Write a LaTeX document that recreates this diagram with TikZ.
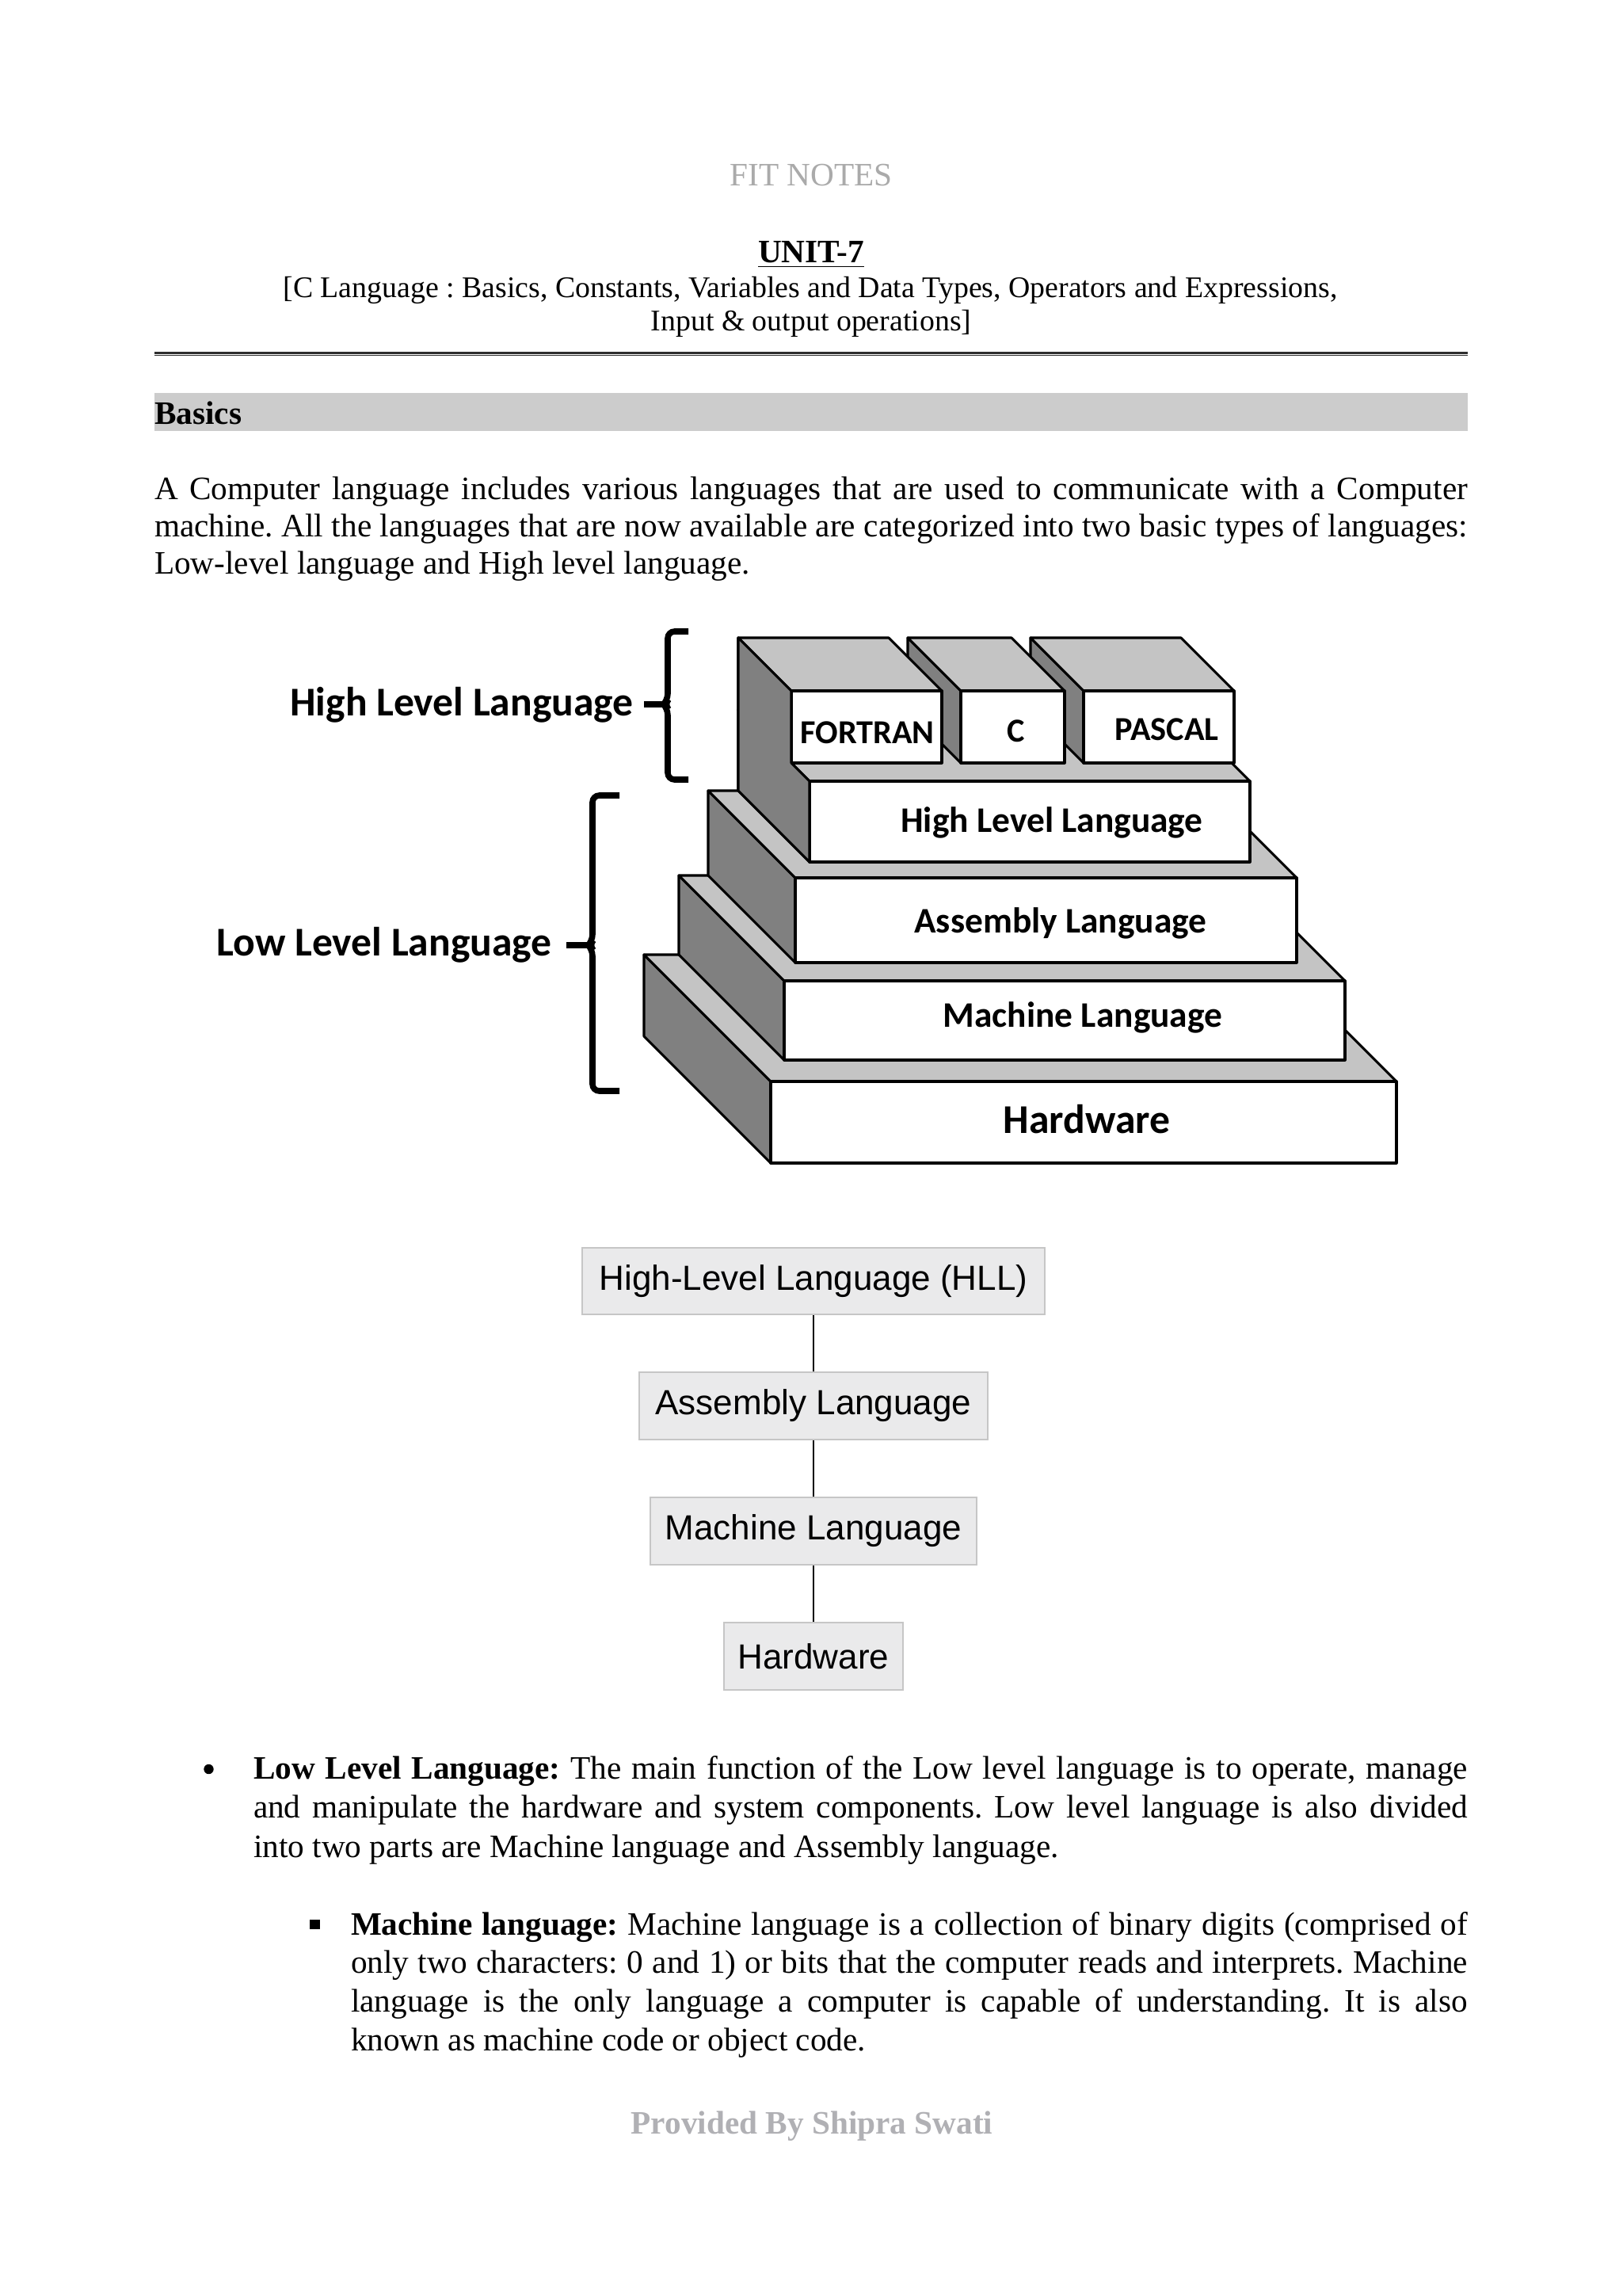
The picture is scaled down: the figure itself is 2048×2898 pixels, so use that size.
\documentclass[tikz,border=0pt]{standalone}
\usepackage{fontspec}
\setmainfont{Liberation Serif}
\newfontfamily\calib{Carlito}
\newfontfamily\arialf{Liberation Sans}
\frenchspacing
\definecolor{fitgray}{RGB}{170,170,170}
\definecolor{footgray}{RGB}{176,176,180}
\definecolor{bandgray}{RGB}{204,204,204}
\definecolor{topgray}{RGB}{196,196,196}
\definecolor{sidegray}{RGB}{128,128,128}
\definecolor{boxfill}{RGB}{234,234,235}
\definecolor{boxline}{RGB}{198,198,198}
\definecolor{rulec}{RGB}{45,45,45}
\newcommand\pyrslab[5]{%
  \filldraw[sideface] (#1,#2) -- (#1-#5,#2-#5) -- (#1-#5,#4-#5) -- (#1,#4) -- cycle;
  \filldraw[topface] (#1,#2) -- (#1-#5,#2-#5) -- (#3-#5,#2-#5) -- (#3,#2) -- cycle;
  \filldraw[frontface] (#1,#2) rectangle (#3,#4);
}
\begin{document}
\begin{tikzpicture}[x=0.290664pt,y=-0.290664pt,
  txt/.style={inner sep=0pt,outer sep=0pt},
  body/.style={txt,font=\fontsize{12}{14}\selectfont},
  sideface/.style={fill=sidegray,draw=black,line width=0.9pt,line join=round},
  topface/.style={fill=topgray,draw=black,line width=0.9pt,line join=round},
  frontface/.style={fill=white,draw=black,line width=0.9pt,line join=round},
  pyrtext/.style={txt,anchor=base,font=\calib\bfseries\fontsize{13.2}{16}\selectfont},
  boxlabel/.style={txt,anchor=base,font=\calib\bfseries\fontsize{12.3}{15}\selectfont},
  sidelabel/.style={txt,anchor=base,font=\calib\bfseries\fontsize{15}{18}\selectfont},
  bracestyle/.style={line width=2.2pt,rounded corners=2.5pt},
  flowbox/.style={draw=boxline,fill=boxfill,line width=0.6pt,inner sep=0pt,
    font=\arialf\fontsize{12.8}{15}\selectfont},
  conn/.style={draw=black,line width=0.7pt}]
\useasboundingbox (0,0) rectangle (2048,2898);
\fill[white] (0,0) rectangle (2048,2898);

% ---------- header ----------
\node[body,anchor=base,text=fitgray] (fit) at (1024,234) {FIT NOTES};
\node[body,anchor=base,font=\bfseries\fontsize{12}{14}\selectfont] (unit) at (1024,331) {\underline{UNIT-7}};
\node[body,anchor=base,font=\fontsize{11}{13}\selectfont] (sub1) at (1023,375) {[C Language : Basics, Constants, Variables and Data Types, Operators and Expressions,};
\node[body,anchor=base,font=\fontsize{11}{13}\selectfont] (sub2) at (1024,417) {Input \& output operations]};
\draw[rulec,line width=0.67pt] (195,445.5) -- (1853,445.5);
\draw[rulec,line width=0.38pt] (195,448.8) -- (1853,448.8);

% ---------- Basics band ----------
\fill[bandgray] (195,496) rectangle (1853,544);
\node[body,anchor=base west,font=\bfseries\fontsize{12}{14}\selectfont] (basics) at (195,535) {Basics};

\node[body,anchor=base west] (para) at (195,630) {\parbox[t]{481.9pt}{\fontsize{12}{13.66}\selectfont
A Computer language includes various languages that are used to communicate with a Computer\linebreak
machine. All the languages that are now available are categorized into two basic types of languages:\linebreak
Low-level language and High level language.}};

% ---------- pyramid ----------
\pyrslab{973}{1365}{1763}{1468}{160}
\pyrslab{990}{1238}{1698}{1338}{133}
\pyrslab{1004}{1108}{1637}{1215}{110}
\pyrslab{1022}{986}{1578}{1088}{90}
\pyrslab{1368}{872}{1558}{963}{67}
\pyrslab{1213}{872}{1344}{963}{67}
\pyrslab{999}{872}{1189}{963}{67}
\filldraw[sideface] (932,805) -- (999,872) -- (999,963) -- (1022,986) -- (1022,1088) -- (932,998) -- cycle;

\node[boxlabel] (fortran) at (1095,938) {FORTRAN};
\node[boxlabel] (clang) at (1283,936) {C};
\node[boxlabel] (pascal) at (1473,934) {PASCAL};
\node[pyrtext] (hlltxt) at (1328,1050) {High Level Language};
\node[pyrtext] (asmtxt) at (1339,1177) {Assembly Language};
\node[pyrtext] (mactxt) at (1367,1296) {Machine Language};
\node[pyrtext,font=\calib\bfseries\fontsize{15}{18}\selectfont] (hwtxt) at (1372,1430) {Hardware};

% braces and side labels
\node[sidelabel] (hlllab) at (583,903) {High Level Language};
\node[sidelabel] (lllab) at (485,1206) {Low Level Language};
\draw[bracestyle] (869,797) -- (843,797) -- (843,884) -- (838,889) -- (843,894) -- (843,984) -- (869,984);
\draw[line width=2.2pt] (813,889) -- (840,889);
\draw[bracestyle] (782,1004) -- (748,1004) -- (748,1188) -- (743,1193) -- (748,1198) -- (748,1377) -- (782,1377);
\draw[line width=2.2pt] (715,1193) -- (745,1193);

% ---------- flow chart ----------
\node[flowbox,minimum width=169.75pt,minimum height=24.4pt] (f1) at (1027,1617) {High-Level Language (HLL)};
\node[flowbox,minimum width=127.9pt,minimum height=24.7pt] (f2) at (1027,1774.5) {Assembly Language};
\node[flowbox,minimum width=120.0pt,minimum height=24.7pt] (f3) at (1027,1932.5) {Machine Language};
\node[flowbox,minimum width=65.7pt,minimum height=24.7pt] (f4) at (1027,2090.5) {Hardware};
\draw[conn] (f1.south) -- (f2.north);
\draw[conn] (f2.south) -- (f3.north);
\draw[conn] (f3.south) -- (f4.north);

% ---------- bullets ----------
\node[circle,fill=black,inner sep=0pt,minimum size=3.6pt] (bul1) at (263.5,2233) {};
\node[body,anchor=base west] (item1) at (320,2245) {\parbox[t]{445.6pt}{\fontsize{12}{14.5}\selectfont
\textbf{Low Level Language:} The main function of the Low level language is to operate, manage\linebreak
and manipulate the hardware and system components. Low level language is also divided\linebreak
into two parts are Machine language and Assembly language.}};
\node[fill=black,inner sep=0pt,minimum size=3.7pt] (bul2) at (397.5,2429) {};
\node[body,anchor=base west] (item2) at (443,2442) {\parbox[t]{409.8pt}{\fontsize{12}{14.15}\selectfont
\textbf{Machine language:} Machine language is a collection of binary digits (comprised of\linebreak
only two characters: 0 and 1) or bits that the computer reads and interprets. Machine\linebreak
language is the only language a computer is capable of understanding. It is also\linebreak
known as machine code or object code.}};

% ---------- footer ----------
\node[body,anchor=base,font=\bfseries\fontsize{12}{14}\selectfont,text=footgray] (foot) at (1025,2693) {Provided By Shipra Swati};
\end{tikzpicture}
\end{document}
